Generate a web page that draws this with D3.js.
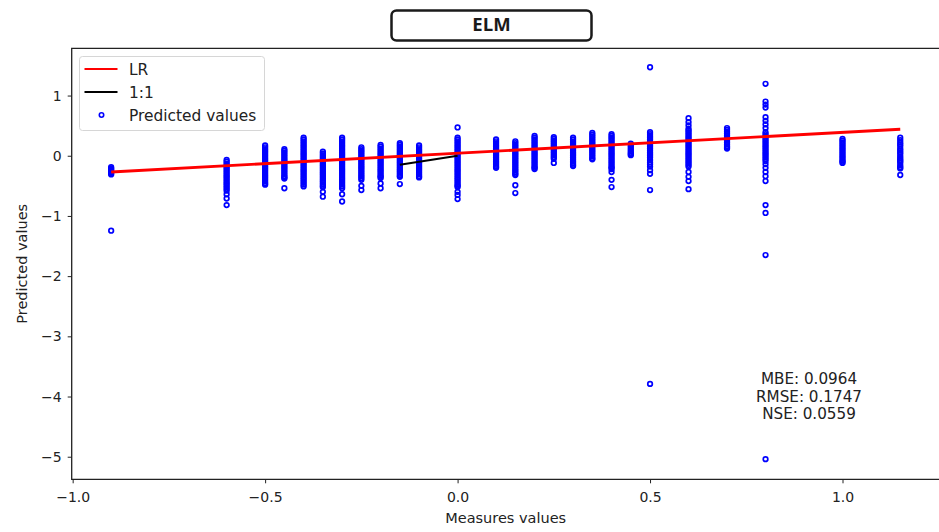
<!DOCTYPE html>
<html>
<head>
<meta charset="utf-8">
<script src="https://cdn.jsdelivr.net/npm/d3@7"></script>
<style>
  body { margin: 0; background: #fff; }
  svg { display: block; font-family: "DejaVu Sans", sans-serif; }
</style>
</head>
<body>
<svg id="chart" width="939" height="532"></svg>
<script>
// measured values (x) for each column of points
var measured = [-0.9, -0.6, -0.5, -0.45, -0.4, -0.35, -0.3, -0.25, -0.2, -0.15, -0.1, 0,
  0.1, 0.15, 0.2, 0.25, 0.3, 0.35, 0.4, 0.45, 0.5, 0.6, 0.7, 0.8, 1.0, 1.15];

// predicted values, top to bottom
var predicted = [
  [-0.19, -0.21, -0.23, -0.25, -0.27, -0.29, -0.31, -1.245],
  [-0.07, -0.1, -0.13, -0.16, -0.19, -0.22, -0.25, -0.28, -0.31, -0.34, -0.37, -0.40, -0.43, -0.46, -0.49, -0.52, -0.55, -0.58, -0.64, -0.71, -0.82],
  [0.17, 0.14, 0.11, 0.08, 0.05, 0.02, -0.01, -0.04, -0.07, -0.10, -0.13, -0.16, -0.19, -0.22, -0.25, -0.28, -0.31, -0.34, -0.37, -0.40, -0.43, -0.46, -0.48],
  [0.11, 0.08, 0.05, 0.02, -0.01, -0.04, -0.07, -0.10, -0.13, -0.16, -0.19, -0.22, -0.25, -0.28, -0.31, -0.34, -0.36, -0.38, -0.54],
  [0.30, 0.27, 0.24, 0.21, 0.18, 0.15, 0.12, 0.09, 0.06, 0.03, 0.00, -0.03, -0.06, -0.09, -0.12, -0.15, -0.18, -0.21, -0.24, -0.27, -0.30, -0.33, -0.36, -0.39, -0.42, -0.45, -0.48, -0.51],
  [0.07, 0.04, 0.01, -0.02, -0.05, -0.08, -0.11, -0.14, -0.17, -0.20, -0.23, -0.26, -0.29, -0.32, -0.35, -0.38, -0.41, -0.44, -0.47, -0.50, -0.52, -0.60, -0.68],
  [0.30, 0.27, 0.24, 0.21, 0.18, 0.15, 0.12, 0.09, 0.06, 0.03, 0.00, -0.03, -0.06, -0.09, -0.12, -0.15, -0.18, -0.21, -0.24, -0.27, -0.30, -0.33, -0.36, -0.39, -0.42, -0.45, -0.48, -0.51, -0.54, -0.64, -0.76],
  [0.14, 0.11, 0.08, 0.05, 0.02, -0.01, -0.04, -0.07, -0.10, -0.13, -0.16, -0.19, -0.22, -0.25, -0.28, -0.31, -0.34, -0.37, -0.40, -0.50, -0.57],
  [0.18, 0.15, 0.12, 0.09, 0.06, 0.03, 0.00, -0.03, -0.06, -0.09, -0.12, -0.15, -0.18, -0.21, -0.24, -0.27, -0.30, -0.33, -0.35, -0.37, -0.46, -0.54],
  [0.21, 0.18, 0.15, 0.12, 0.09, 0.06, 0.03, 0.00, -0.03, -0.06, -0.09, -0.12, -0.15, -0.18, -0.21, -0.24, -0.27, -0.30, -0.33, -0.35, -0.47],
  [0.17, 0.14, 0.11, 0.08, 0.05, 0.02, -0.01, -0.04, -0.07, -0.10, -0.13, -0.16, -0.19, -0.22, -0.25, -0.28, -0.31, -0.34, -0.36],
  [0.47, 0.30, 0.27, 0.24, 0.21, 0.18, 0.15, 0.12, 0.09, 0.06, 0.03, 0.00, -0.03, -0.06, -0.09, -0.12, -0.15, -0.18, -0.21, -0.24, -0.27, -0.30, -0.33, -0.36, -0.39, -0.42, -0.45, -0.48, -0.50, -0.52, -0.60, -0.65, -0.72],
  [0.27, 0.24, 0.21, 0.18, 0.15, 0.12, 0.09, 0.06, 0.03, 0.00, -0.03, -0.06, -0.09, -0.12, -0.15, -0.18, -0.20],
  [0.24, 0.21, 0.18, 0.15, 0.12, 0.09, 0.06, 0.03, 0.00, -0.03, -0.06, -0.09, -0.12, -0.15, -0.18, -0.21, -0.24, -0.27, -0.30, -0.32, -0.49, -0.62],
  [0.33, 0.30, 0.27, 0.24, 0.21, 0.18, 0.15, 0.12, 0.09, 0.06, 0.03, 0.00, -0.03, -0.06, -0.09, -0.12, -0.15, -0.18, -0.20, -0.22],
  [0.31, 0.28, 0.25, 0.22, 0.19, 0.16, 0.13, 0.10, 0.07, 0.04, 0.01, -0.02, -0.05, -0.12],
  [0.30, 0.27, 0.24, 0.21, 0.18, 0.15, 0.12, 0.09, 0.06, 0.03, 0.00, -0.03, -0.06, -0.09, -0.12, -0.15, -0.17],
  [0.38, 0.35, 0.32, 0.29, 0.26, 0.23, 0.20, 0.17, 0.14, 0.11, 0.08, 0.05, 0.02, -0.01, -0.04, -0.06],
  [0.36, 0.33, 0.30, 0.27, 0.24, 0.21, 0.18, 0.15, 0.12, 0.09, 0.06, 0.03, 0.00, -0.03, -0.06, -0.09, -0.12, -0.15, -0.18, -0.20, -0.22, -0.27, -0.40, -0.52],
  [0.20, 0.17, 0.14, 0.11, 0.08, 0.05, 0.03, 0.01],
  [1.47, 0.39, 0.36, 0.33, 0.30, 0.27, 0.24, 0.21, 0.18, 0.15, 0.12, 0.09, 0.06, 0.03, 0.00, -0.03, -0.07, -0.11, -0.14, -0.18, -0.24, -0.30, -0.57, -3.79],
  [0.625, 0.56, 0.505, 0.45, 0.42, 0.39, 0.36, 0.33, 0.30, 0.27, 0.24, 0.21, 0.18, 0.15, 0.12, 0.09, 0.06, 0.03, 0.00, -0.03, -0.06, -0.09, -0.12, -0.15, -0.18, -0.27, -0.35, -0.42, -0.555],
  [0.46, 0.43, 0.40, 0.37, 0.34, 0.31, 0.28, 0.25, 0.22, 0.19, 0.16, 0.14, 0.12],
  [1.195, 0.90, 0.85, 0.80, 0.64, 0.58, 0.52, 0.46, 0.39, 0.36, 0.33, 0.30, 0.27, 0.24, 0.21, 0.18, 0.15, 0.12, 0.09, 0.06, 0.03, 0.00, -0.03, -0.06, -0.09, -0.14, -0.20, -0.27, -0.34, -0.42, -0.82, -0.95, -1.65, -5.04],
  [0.28, 0.25, 0.22, 0.19, 0.16, 0.13, 0.10, 0.07, 0.04, 0.01, -0.02, -0.05, -0.08, -0.10, -0.12],
  [0.30, 0.26, 0.22, 0.19, 0.16, 0.12, 0.09, 0.06, 0.03, -0.01, -0.04, -0.07, -0.09, -0.12, -0.16, -0.19, -0.21, -0.32]
];

// fitted regression line (LR) and the 1:1 segment
var lrX = [-0.9, 1.15];
var lrY = [-0.27, 0.44];
var oneX = [-0.15, 0];
var oneY = [-0.15, 0];

var xTicks = [-1.0, -0.5, 0.0, 0.5, 1.0];
var yTicks = [-5, -4, -3, -2, -1, 0, 1];

var stats = ['MBE: 0.0964', 'RMSE: 0.1747', 'NSE: 0.0559'];
var legendItems = [
  { label: 'LR', kind: 'line', color: '#ff0000' },
  { label: '1:1', kind: 'line', color: '#000000' },
  { label: 'Predicted values', kind: 'dot', color: '#0000ff' }
];

// plot area (the right spine falls just outside the picture)
var plotL = 71.7, plotR = 939.7, plotT = 48.3, plotB = 479.3;

var svg = d3.select('#chart');

var x = d3.scaleLinear().domain([-1.0025, 1.2525]).range([plotL, plotR]);
var y = d3.scaleLinear().domain([-5.375, 1.785]).range([plotB, plotT]);

// flatten columns into points
var points = [];
measured.forEach(function(m, i) {
  predicted[i].forEach(function(p) { points.push({ x: m, y: p }); });
});

var plot = svg.append('g');

plot.selectAll('circle.pt')
  .data(points)
  .enter()
    .append('circle')
      .attr('class', 'pt')
      .attr('cx', function(d) { return x(d.x); })
      .attr('cy', function(d) { return y(d.y); })
      .attr('r', 2.3)
      .attr('fill', 'none')
      .attr('stroke', '#0000ff')
      .attr('stroke-width', 1.7);

var line = d3.line()
  .x(function(d) { return x(d[0]); })
  .y(function(d) { return y(d[1]); });

plot.append('path')
  .attr('d', line(d3.zip(oneX, oneY)))
  .attr('stroke', '#000')
  .attr('stroke-width', 2)
  .attr('fill', 'none');

plot.append('path')
  .attr('d', line(d3.zip(lrX, lrY)))
  .attr('stroke', '#ff0000')
  .attr('stroke-width', 2.8)
  .attr('fill', 'none');

// axes
var xAxis = svg.append('g')
  .attr('transform', 'translate(0,' + plotB + ')')
  .call(d3.axisBottom(x).tickValues(xTicks).tickSize(4).tickPadding(9)
    .tickFormat(function(d) { return d3.format('.1f')(d).replace('-', '\u2212'); }));

var yAxis = svg.append('g')
  .attr('transform', 'translate(' + plotL + ',0)')
  .call(d3.axisLeft(y).tickValues(yTicks).tickSize(4).tickPadding(6)
    .tickFormat(function(d) { return String(d).replace('-', '\u2212'); }));

[xAxis, yAxis].forEach(function(ax) {
  ax.select('.domain').remove();
  ax.selectAll('line').attr('stroke', '#222').attr('stroke-width', 1);
  ax.selectAll('text')
    .attr('font-family', '"DejaVu Sans", sans-serif')
    .attr('font-size', 14)
    .attr('fill', '#222');
});

// frame
svg.append('path')
  .attr('d', 'M' + plotR + ',' + plotT + 'L' + plotL + ',' + plotT + 'L' + plotL + ',' + plotB + 'L' + plotR + ',' + plotB)
  .attr('stroke', '#222')
  .attr('stroke-width', 1.3)
  .attr('fill', 'none');

// axis labels
svg.append('text')
  .text('Measures values')
  .attr('x', (plotL + plotR) / 2)
  .attr('y', 523)
  .attr('text-anchor', 'middle')
  .attr('font-size', 14.5)
  .attr('fill', '#222');

svg.append('text')
  .text('Predicted values')
  .attr('transform', 'translate(27,' + ((plotT + plotB) / 2) + ') rotate(-90)')
  .attr('text-anchor', 'middle')
  .attr('font-size', 14.5)
  .attr('fill', '#222');

// legend
var legend = svg.append('g').attr('transform', 'translate(79.5,56.5)');
legend.append('rect')
  .attr('width', 185)
  .attr('height', 74)
  .attr('rx', 3)
  .attr('fill', '#fff')
  .attr('fill-opacity', 0.8)
  .attr('stroke', '#d6d6d6');

var rows = legend.selectAll('g.row')
  .data(legendItems)
  .enter()
    .append('g')
      .attr('class', 'row')
      .attr('transform', function(d, i) { return 'translate(0,' + (12.5 + i * 23) + ')'; });

rows.filter(function(d) { return d.kind == 'line'; })
  .append('line')
    .attr('x1', 5).attr('x2', 38)
    .attr('stroke', function(d) { return d.color; })
    .attr('stroke-width', 2.2);

rows.filter(function(d) { return d.kind == 'dot'; })
  .append('circle')
    .attr('cx', 22).attr('r', 2.2)
    .attr('fill', 'none')
    .attr('stroke', function(d) { return d.color; })
    .attr('stroke-width', 1.6);

rows.append('text')
  .text(function(d) { return d.label; })
  .attr('x', 49.5)
  .attr('dy', '0.36em')
  .attr('font-size', 15.4)
  .attr('fill', '#222');

// error statistics
svg.append('g').selectAll('text')
  .data(stats)
  .enter()
    .append('text')
      .text(function(d) { return d; })
      .attr('x', 809)
      .attr('y', function(d, i) { return 384 + i * 17.7; })
      .attr('text-anchor', 'middle')
      .attr('font-size', 15.2)
      .attr('fill', '#222');

// title box
svg.append('rect')
  .attr('x', 391.5).attr('y', 10.5)
  .attr('width', 200).attr('height', 30)
  .attr('rx', 5)
  .attr('fill', '#fff')
  .attr('stroke', '#1a1a1a')
  .attr('stroke-width', 2.5);

svg.append('text')
  .text('ELM')
  .attr('x', 491.5)
  .attr('y', 31)
  .attr('text-anchor', 'middle')
  .attr('font-family', '"Open Sans", sans-serif')
  .attr('font-weight', 'bold')
  .attr('font-size', 18.5)
  .attr('fill', '#1a1a1a');
</script>
</body>
</html>
